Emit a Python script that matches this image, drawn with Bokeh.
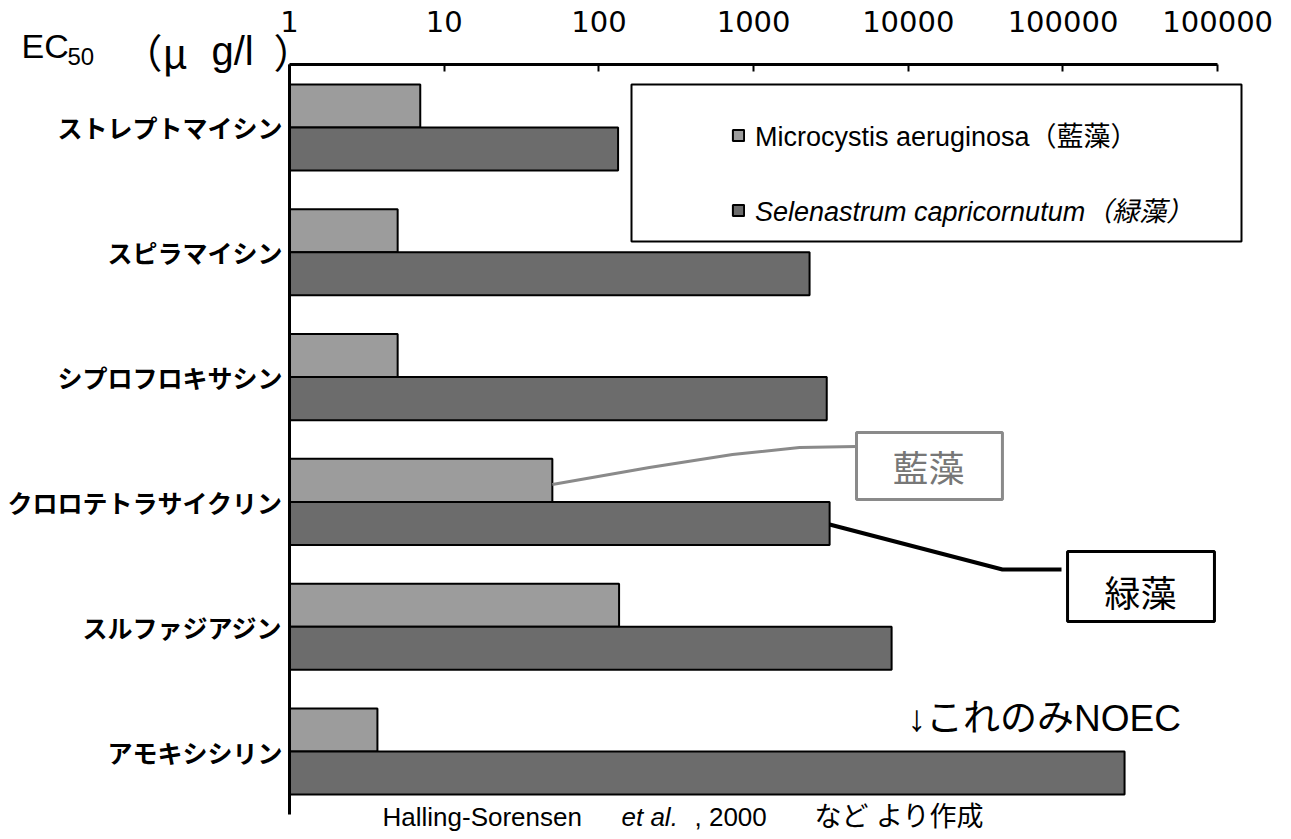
from bokeh.plotting import figure
from bokeh.models import Range1d, FixedTicker, Legend, LegendItem, Label, BoxAnnotation
from bokeh.embed import file_html
from bokeh.resources import INLINE

# ---------------- data ----------------
categories = ["ストレプトマイシン", "スピラマイシン", "シプロフロキサシン",
              "クロロテトラサイクリン", "スルファジアジン", "アモキシシリン"]
microcystis = [7, 5, 5, 50, 135, 3.7]                 # EC50 (µg/l), 藍藻
selenastrum = [133, 2300, 2970, 3100, 7800, 250000]   # EC50 (µg/l), 緑藻 (amoxicillin = NOEC)
series_names = ["Microcystis aeruginosa（藍藻）", "Selenastrum capricornutum（緑藻）"]
x_ticks = [1, 10, 100, 1000, 10000, 100000, 1000000]
x_tick_labels = ["1", "10", "100", "1000", "10000", "100000", "100000"]

LAT = "Liberation Sans, Noto Sans CJK JP"
JP = "Noto Sans CJK JP"

rows = list(range(len(categories)))
BAR_H = 0.345
Y_TOP, Y_BOT = -0.505, 5.505          # extent of the category axis

W, H = 1280, 836
p = figure(width=W, height=H, x_axis_type="log", x_axis_location="above",
           x_range=Range1d(0.01354, 2.547e6), y_range=Range1d(5.681, -1.0176),
           output_backend="svg", toolbar_location=None,
           min_border_left=0, min_border_right=0, min_border_top=0,
           min_border_bottom=0)
p.grid.visible = False
p.outline_line_color = None
p.background_fill_color = "white"

r_m = p.hbar(y=[r - BAR_H / 2 for r in rows], left=1, right=microcystis, height=BAR_H,
             fill_color="#9c9c9c", line_color="black", line_width=2)
r_s = p.hbar(y=[r + BAR_H / 2 for r in rows], left=1, right=selenastrum, height=BAR_H,
             fill_color="#6c6c6c", line_color="black", line_width=2)

# top log axis, drawn inside the frame
xa = p.xaxis[0]
xa.fixed_location = Y_TOP
xa.bounds = (x_ticks[0], x_ticks[-1])
xa.ticker = FixedTicker(ticks=x_ticks, minor_ticks=[])
xa.major_label_overrides = {float(t): l for t, l in zip(x_ticks, x_tick_labels)}
xa.axis_line_width = 3
xa.major_tick_in = 7
xa.major_tick_out = 0
xa.major_tick_line_width = 2
xa.major_label_standoff = 32
xa.major_label_text_font = "DejaVu Sans"
xa.major_label_text_font_size = "29px"
xa.major_label_text_color = "black"

# left category axis at x = 1
ya = p.yaxis[0]
ya.fixed_location = 1
ya.bounds = (Y_TOP, Y_BOT)
ya.ticker = FixedTicker(ticks=rows, minor_ticks=[])
ya.major_label_overrides = {float(r): c for r, c in zip(rows, categories)}
ya.axis_line_width = 3
ya.major_tick_in = 0
ya.major_tick_out = 0
ya.major_label_standoff = 7
ya.major_label_text_font = JP
ya.major_label_text_font_style = "bold"
ya.major_label_text_font_size = "25px"
ya.major_label_text_color = "black"

# legend box + entries (screen units relative to the frame = canvas)
p.add_layout(BoxAnnotation(left=631, right=1241, top=752, bottom=595,
                           left_units="screen", right_units="screen",
                           top_units="screen", bottom_units="screen",
                           fill_color="white", fill_alpha=1.0,
                           line_color="black", line_alpha=1.0, line_width=2))
for i, (rend, style, loc) in enumerate([(r_m, "normal", (731, 682)),
                                         (r_s, "italic", (731, 607))]):
    leg = Legend(items=[LegendItem(label=series_names[i], renderers=[rend])],
                 location=loc, padding=0, margin=0, spacing=0,
                 border_line_color=None, background_fill_alpha=0,
                 glyph_width=14, glyph_height=14, label_standoff=10,
                 label_text_font=LAT, label_text_font_size="27px",
                 label_text_font_style=style, label_text_color="black")
    p.add_layout(leg, "center")

# callouts
p.line(x=[microcystis[3], 212, 731, 1981, 4625], y=[2.861, 2.724, 2.620, 2.564, 2.556],
       line_color="#8a8a8a", line_width=3)
p.quad(left=[4625], right=[40600], top=[2.444], bottom=[2.981],
       fill_color="white", line_color="#8a8a8a", line_width=3)
p.add_layout(Label(x=13500, y=2.716, text="藍藻", text_font=JP, text_font_size="36px",
                   text_color="#777777", text_align="center", text_baseline="middle"))

p.line(x=[selenastrum[3], 40600, 97800], y=[3.181, 3.542, 3.542],
       line_color="black", line_width=4)
p.quad(left=[107000], right=[953000], top=[3.397], bottom=[3.958],
       fill_color="white", line_color="black", line_width=3)
p.add_layout(Label(x=317000, y=3.710, text="緑藻", text_font=JP, text_font_size="36px",
                   text_color="black", text_align="center", text_baseline="middle"))

p.add_layout(Label(x=9880, y=4.736, text="↓これのみNOEC", text_font=LAT,
                   text_font_size="37px", text_color="black", text_baseline="middle"))

# y-axis title (screen units relative to the frame = canvas)
for x, y, txt, font, size in [(21, 791, "EC", "Liberation Sans", "34px"),
                              (67, 780, "50", "Liberation Sans", "24px"),
                              (122, 786, "（μ", JP, "40px"),
                              (211, 786, "g/l", "Liberation Sans", "40px"),
                              (273, 786, "）", JP, "40px")]:
    p.add_layout(Label(x=x, y=y, x_units="screen", y_units="screen", text=txt,
                       text_font=font, text_font_size=size, text_color="black",
                       text_baseline="middle"))

# source note
for x, txt, st, size in [(382, "Halling-Sorensen", "normal", "26px"),
                         (621, "et al.", "italic", "26px"),
                         (694, ", 2000", "normal", "26px"),
                         (814, "など より作成", "normal", "27px")]:
    p.add_layout(Label(x=x, y=20, x_units="screen", y_units="screen", text=txt,
                       text_font=LAT, text_font_size=size, text_font_style=st,
                       text_color="black", text_baseline="middle"))

open("out.html", "w").write(file_html(p, INLINE))
